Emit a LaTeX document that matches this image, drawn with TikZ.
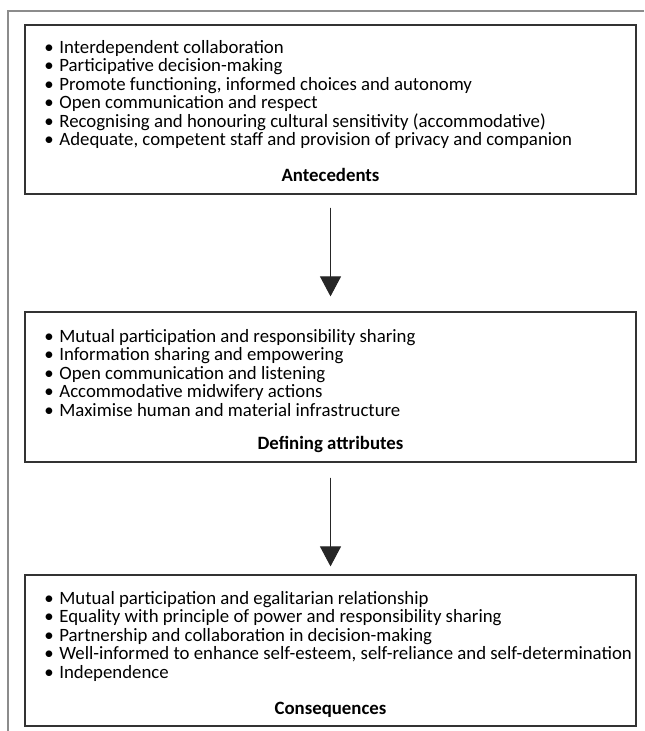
\documentclass[tikz,border=0pt]{standalone}
\usepackage{fontspec}
\setmainfont{Carlito}
\usetikzlibrary{arrows.meta}
\usetikzlibrary{positioning}
\definecolor{framegray}{HTML}{8C8C8C}
\definecolor{boxline}{HTML}{333333}
\tikzstyle{concept}=[rectangle,draw=boxline,line width=0.6pt,minimum width=305.5pt,inner sep=0pt]
\tikzstyle{items}=[align=left,anchor=north west,inner sep=0pt,font=\fontsize{9.4}{9.25}\selectfont]
\tikzstyle{heading}=[anchor=base,inner sep=0pt,font=\fontsize{9.4}{9.25}\selectfont\bfseries]
\tikzstyle{arrow}=[-{Triangle[length=10pt,width=10.5pt]},line width=0.5pt,draw=black!85,fill=black!85]
\newcommand{\bul}{\makebox[7.5pt][l]{\textbullet}}

\begin{document}
\begin{tikzpicture}[x=0.5pt,y=-0.5pt]
    \useasboundingbox (0,0) rectangle (644,731);
    \draw[framegray,line width=0.75pt] (644,11) -- (8,11) -- (8,731);
    % boxes
    \node[concept,minimum height=84.5pt] at (330.5,109.5) (ante) {};
    \node[concept,minimum height=75pt] at (330.5,387) (attr) {};
    \node[concept,minimum height=75.5pt] at (330.5,650.5) (cons) {};
    % lists
    \node[items] at (44,40) (antelist) {\bul Interdependent collaboration\\
      \bul Participative decision-making\\
      \bul Promote functioning, informed choices and autonomy\\
      \bul Open communication and respect\\
      \bul Recognising and honouring cultural sensitivity (accommodative)\\
      \bul Adequate, competent staff and provision of privacy and companion};
    \node[items] at (44,329) (attrlist) {\bul Mutual participation and responsibility sharing\\
      \bul Information sharing and empowering\\
      \bul Open communication and listening\\
      \bul Accommodative midwifery actions\\
      \bul Maximise human and material infrastructure};
    \node[items] at (44,591) (conslist) {\bul Mutual participation and egalitarian relationship\\
      \bul Equality with principle of power and responsibility sharing\\
      \bul Partnership and collaboration in decision-making\\
      \bul Well-informed to enhance self-esteem, self-reliance and self-determination\\
      \bul Independence};
    % titles
    \node[heading] at (330.5,182) (antetitle) {Antecedents};
    \node[heading] at (330.5,449) (attrtitle) {Defining attributes};
    \node[heading] at (330.5,714) (constitle) {Consequences};
    % arrows
    \draw[arrow,shorten <=6.5pt,shorten >=7.5pt] (ante) -- (attr);
    \draw[arrow,shorten <=7.5pt,shorten >=4pt] (attr) -- (cons);
\end{tikzpicture}
\end{document}
